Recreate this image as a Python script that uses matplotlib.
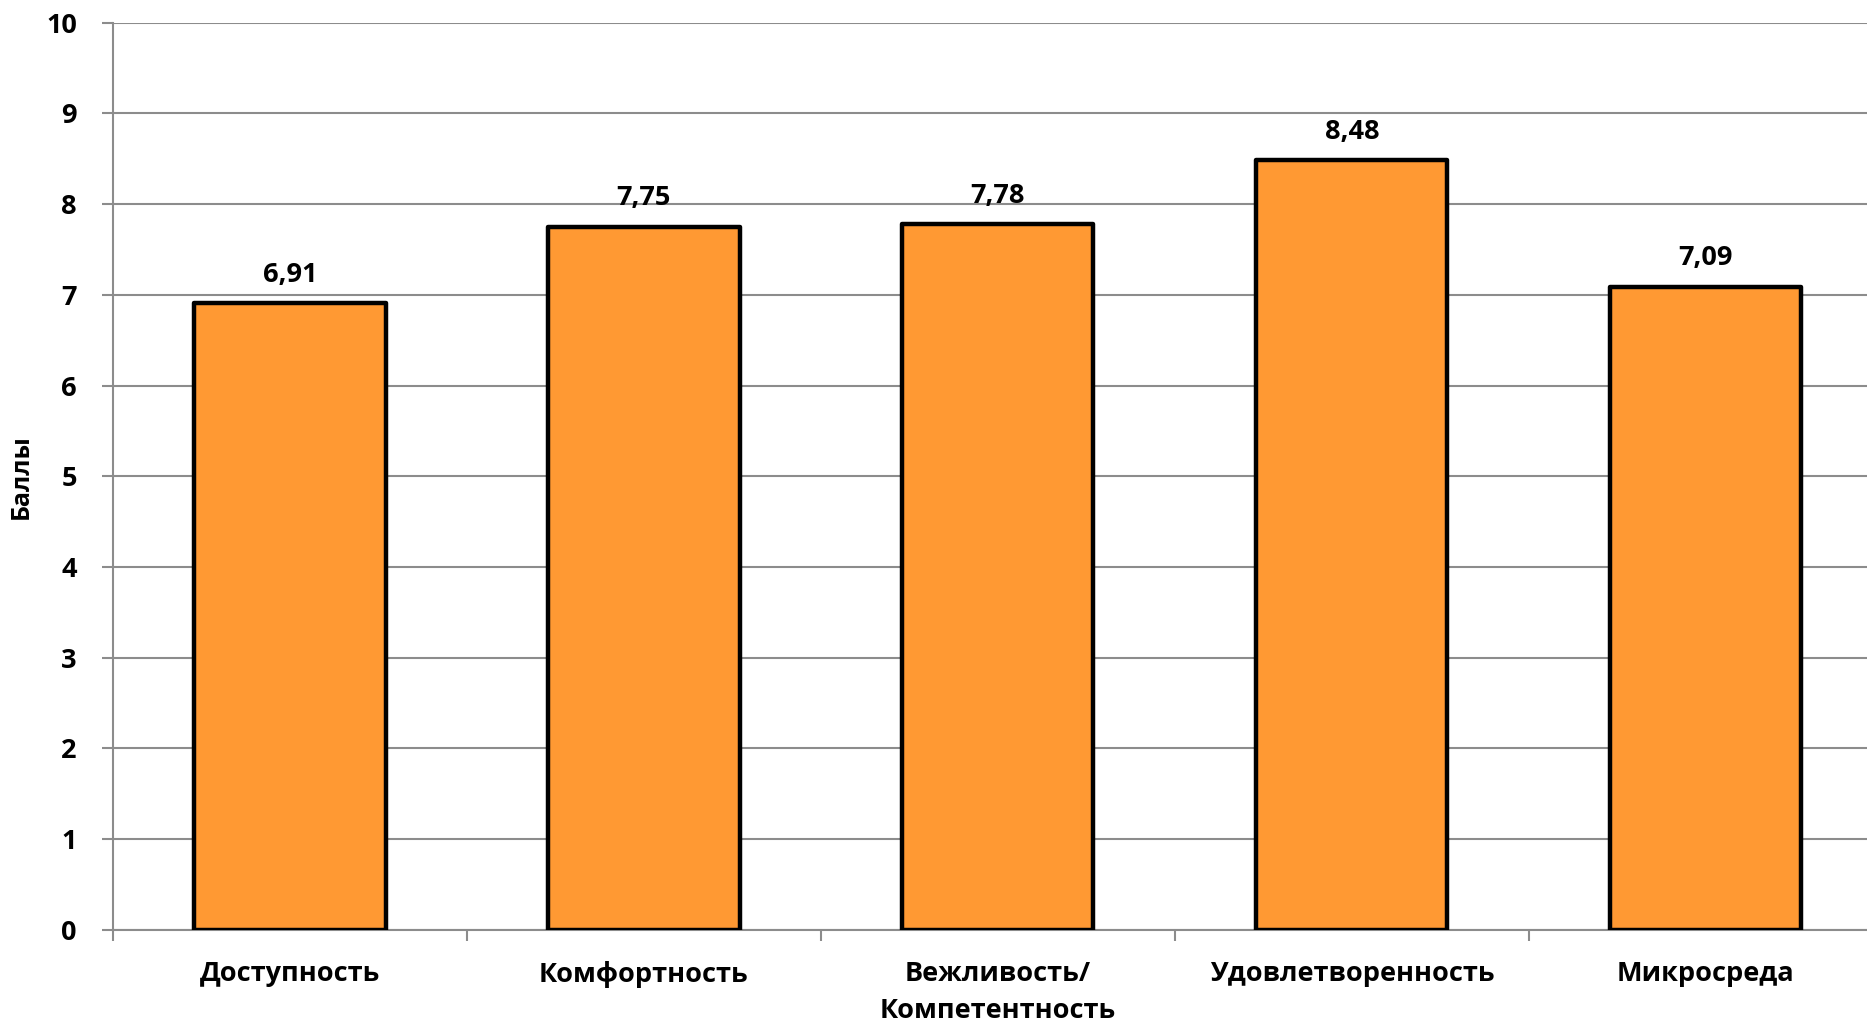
import matplotlib
matplotlib.use("Agg")
import matplotlib.pyplot as plt
import numpy as np

# Chart data
categories = ["Доступность", "Комфортность", "Вежливость/\nКомпетентность",
              "Удовлетворенность", "Микросреда"]
scores = [6.91, 7.75, 7.78, 8.48, 7.09]
value_labels = ["6,91", "7,75", "7,78", "8,48", "7,09"]
y_ticks = [0, 1, 2, 3, 4, 5, 6, 7, 8, 9, 10]

plt.rcParams["font.family"] = ["Open Sans", "DejaVu Sans"]
plt.rcParams["font.weight"] = "bold"

GRID = "#8c8c8c"
BAR = "#FF9933"

fig = plt.figure(figsize=(18.67, 10.25), dpi=100)
# right edge sits just past the canvas, as in the original (cropped) chart
ax = fig.add_axes([0.0605, 0.0927, 0.948, 0.8853])

x = np.arange(len(categories))
bars = ax.bar(x, scores, width=0.54, color=BAR, edgecolor="black",
              linewidth=3.2, zorder=3)
for bar in bars:
    bar.set_joinstyle("round")

for xi, v, lab in zip(x, scores, value_labels):
    ax.annotate(lab, (xi, v), xytext=(0, 11), textcoords="offset points",
                ha="center", va="bottom", fontsize=19.5, fontweight="bold")

ax.set_xlim(-0.5, len(categories) - 0.5)
ax.set_ylim(0, 10)
ax.set_yticks(y_ticks)
ax.set_yticklabels([str(t) for t in y_ticks], fontsize=19.5, fontweight="bold")
ax.yaxis.grid(True, color=GRID, linewidth=1.5, zorder=0)
ax.set_axisbelow(True)

# category boundaries carry the tick marks, centres carry the labels
ax.set_xticks(np.arange(-0.5, len(categories) + 0.5, 1.0))
ax.set_xticklabels([])
ax.set_xticks(x, minor=True)
ax.set_xticklabels(categories, minor=True, fontsize=19.5, fontweight="bold",
                   linespacing=1.55)
ax.tick_params(axis="x", which="major", length=8, width=1.5, color=GRID,
               direction="out")
ax.tick_params(axis="x", which="minor", length=0, pad=22)
ax.tick_params(axis="y", length=8, width=1.5, color=GRID, pad=18)

for side in ["top", "right"]:
    ax.spines[side].set_visible(False)
for side in ["left", "bottom"]:
    ax.spines[side].set_color(GRID)
    ax.spines[side].set_linewidth(1.5)

ax.set_ylabel("Баллы", fontsize=18, fontweight="bold")
ax.yaxis.set_label_coords(-0.045, 0.5)

fig.savefig("out.png", dpi=100)
